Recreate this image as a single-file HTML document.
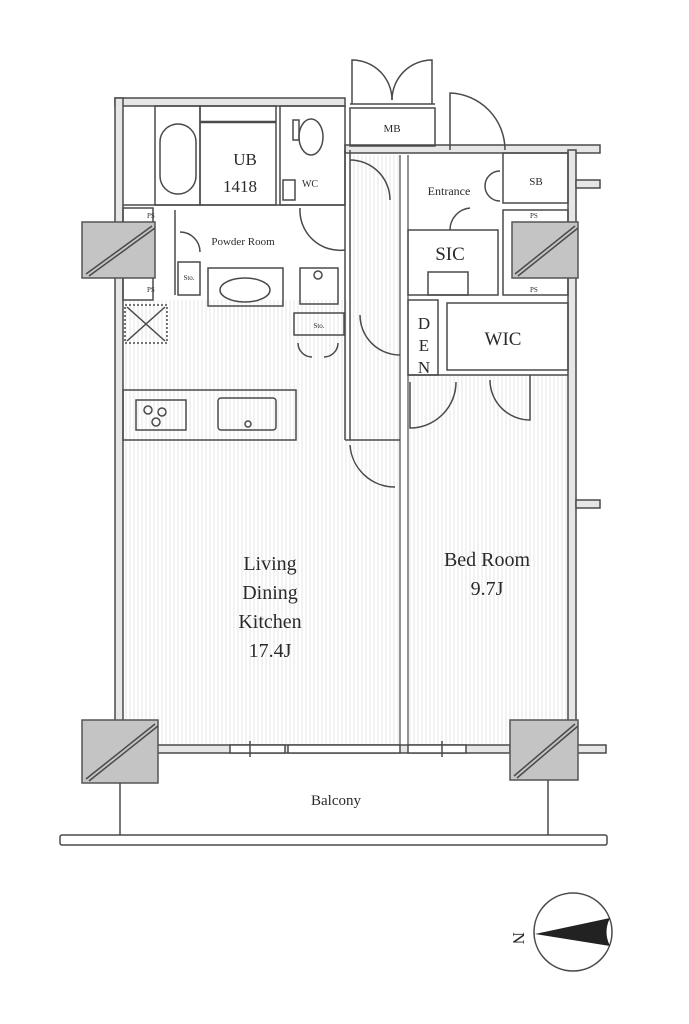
<!DOCTYPE html>
<html><head><meta charset="utf-8"><style>
html,body{margin:0;padding:0;background:#fff;}
svg{display:block;}
text{font-family:"Liberation Serif",serif;fill:#2a2a2a;}
</style></head><body>
<svg width="689" height="1024" viewBox="0 0 689 1024" xmlns="http://www.w3.org/2000/svg">
<defs>
<pattern id="fl" width="4" height="10" patternUnits="userSpaceOnUse"><line x1="2" y1="0" x2="2" y2="10" stroke="#e4e4e4" stroke-width="1"/></pattern>
</defs>
<g fill="none" stroke="#4a4a4a" stroke-width="1.5">
<rect x="125" y="300" width="275" height="445" fill="url(#fl)" stroke="none"/>
<rect x="408" y="375" width="160" height="370" fill="url(#fl)" stroke="none"/>
<rect x="350" y="155" width="50" height="285" fill="url(#fl)" stroke="none"/>
<rect x="115" y="98" width="230" height="8" fill="#e6e6e6"/>
<rect x="115" y="98" width="8" height="647" fill="#e6e6e6"/>
<rect x="345" y="145" width="255" height="8" fill="#e6e6e6"/>
<rect x="568" y="150" width="8" height="600" fill="#e6e6e6"/>
<rect x="576" y="180" width="24" height="8" fill="#e6e6e6"/>
<rect x="576" y="500" width="24" height="8" fill="#e6e6e6"/>
<rect x="576" y="745" width="30" height="8" fill="#e6e6e6"/>
<rect x="155" y="745" width="355" height="8" fill="#e6e6e6"/>
<rect x="230" y="745" width="55" height="8" fill="#fff"/>
<rect x="288" y="745" width="112" height="8" fill="#fff"/>
<rect x="408" y="745" width="58" height="8" fill="#fff"/>
<line x1="250" y1="741" x2="250" y2="757"/><line x1="442" y1="741" x2="442" y2="757"/>
<rect x="350" y="108" width="85" height="38"/>
<line x1="350" y1="104" x2="435" y2="104"/>
<path d="M352 104 V60 A40 40 0 0 1 392 100"/>
<path d="M432 104 V60 A40 40 0 0 0 392 100"/>
<path d="M450 150 V93 A57 57 0 0 1 505 150"/>
<rect x="155" y="106" width="45" height="99"/>
<rect x="200" y="106" width="76" height="99"/>
<line x1="200" y1="122" x2="276" y2="122" stroke-width="2.5"/>
<rect x="160" y="124" width="36" height="70" rx="18"/>
<rect x="280" y="106" width="65" height="99"/>
<ellipse cx="311" cy="137" rx="12" ry="18"/>
<rect x="293" y="120" width="6" height="20"/>
<rect x="283" y="180" width="12" height="20"/>
<line x1="123" y1="205" x2="345" y2="205"/>
<rect x="123" y="208" width="30" height="92"/>
<line x1="175" y1="210" x2="175" y2="295"/>
<rect x="178" y="262" width="22" height="33"/>
<rect x="208" y="268" width="75" height="38"/>
<ellipse cx="245" cy="290" rx="25" ry="12"/>
<rect x="300" y="268" width="38" height="36"/>
<circle cx="318" cy="275" r="4"/>
<rect x="294" y="313" width="50" height="22"/>
<path d="M300 208 A40 40 0 0 0 345 250"/>
<path d="M180 232 A20 20 0 0 1 200 252"/>
<path d="M298 343 A14 14 0 0 0 312 357 M338 343 A14 14 0 0 1 324 357"/>
<line x1="345" y1="150" x2="345" y2="440"/>
<line x1="350" y1="150" x2="350" y2="440"/>
<line x1="345" y1="440" x2="400" y2="440"/>
<path d="M350 160 A40 40 0 0 1 390 200"/>
<path d="M350 445 A45 45 0 0 0 395 487"/>
<rect x="125" y="305" width="42" height="38" stroke-dasharray="2,2"/>
<line x1="127" y1="307" x2="165" y2="341"/><line x1="165" y1="307" x2="127" y2="341"/>
<rect x="123" y="390" width="173" height="50"/>
<rect x="136" y="400" width="50" height="30"/>
<circle cx="148" cy="410" r="4"/><circle cx="162" cy="412" r="4"/><circle cx="156" cy="422" r="4"/>
<rect x="218" y="398" width="58" height="32" rx="3"/>
<circle cx="248" cy="424" r="3"/>
<line x1="400" y1="155" x2="400" y2="745" stroke-width="1.2"/>
<line x1="408" y1="155" x2="408" y2="745" stroke-width="1.2"/>
<rect x="408" y="230" width="90" height="65"/>
<rect x="428" y="272" width="40" height="23"/>
<rect x="503" y="153" width="65" height="50"/>
<rect x="503" y="210" width="65" height="85"/>
<rect x="408" y="300" width="30" height="75"/>
<rect x="447" y="303" width="121" height="67"/>
<line x1="408" y1="375" x2="568" y2="375"/>
<path d="M360 315 A40 40 0 0 0 400 355"/>
<path d="M410 382 V428 A46 46 0 0 0 456 382"/>
<path d="M490 380 A40 40 0 0 0 530 420 V375"/>
<path d="M450 230 A22 22 0 0 1 470 208"/>
<path d="M485 186 A15 15 0 0 1 500 171 M485 186 A15 15 0 0 0 500 201"/>
<g fill="#c4c4c4" stroke="#555">
<rect x="82" y="222" width="73" height="56"/>
<rect x="512" y="222" width="66" height="56"/>
<rect x="82" y="720" width="76" height="63"/>
<rect x="510" y="720" width="68" height="60"/>
</g>
<path d="M86 274 L152 226 M89 276 L155 228"/>
<path d="M515 274 L575 226 M518 276 L578 228"/>
<path d="M86 779 L155 724 M89 781 L158 726"/>
<path d="M514 776 L575 724 M517 778 L578 726"/>
<line x1="120" y1="783" x2="120" y2="835"/>
<line x1="548" y1="780" x2="548" y2="835"/>
<rect x="60" y="835" width="547" height="10" rx="2"/>
<circle cx="573" cy="932" r="39"/>
</g>
<path d="M535 934 L610 918 Q603 932 610 946 Z" fill="#222"/>
<text x="515" y="944" font-size="17" transform="rotate(90 520 937)">N</text>

<text x="245" y="165" font-size="17" text-anchor="middle">UB</text>
<text x="240" y="192" font-size="17" text-anchor="middle">1418</text>
<text x="310" y="187" font-size="10" text-anchor="middle">WC</text>
<text x="392" y="132" font-size="11" text-anchor="middle">MB</text>
<text x="449" y="195" font-size="12" text-anchor="middle" fill="#5a3a2a">Entrance</text>
<text x="536" y="185" font-size="11" text-anchor="middle">SB</text>
<text x="243" y="245" font-size="11" text-anchor="middle">Powder Room</text>
<text x="450" y="260" font-size="19" text-anchor="middle">SIC</text>
<text x="503" y="345" font-size="19" text-anchor="middle">WIC</text>
<text x="424" y="329" font-size="17" text-anchor="middle">D</text>
<text x="424" y="351" font-size="17" text-anchor="middle">E</text>
<text x="424" y="373" font-size="17" text-anchor="middle">N</text>
<text x="147" y="218" font-size="7">PS</text>
<text x="147" y="292" font-size="7">PS</text>
<text x="530" y="218" font-size="7">PS</text>
<text x="530" y="292" font-size="7">PS</text>
<text x="189" y="280" font-size="7" text-anchor="middle">Sto.</text>
<text x="319" y="328" font-size="7" text-anchor="middle">Sto.</text>
<text x="270" y="570" font-size="20" text-anchor="middle">Living</text>
<text x="270" y="599" font-size="20" text-anchor="middle">Dining</text>
<text x="270" y="628" font-size="20" text-anchor="middle">Kitchen</text>
<text x="270" y="657" font-size="20" text-anchor="middle">17.4J</text>
<text x="487" y="566" font-size="20" text-anchor="middle">Bed Room</text>
<text x="487" y="595" font-size="20" text-anchor="middle">9.7J</text>
<text x="336" y="805" font-size="15" text-anchor="middle">Balcony</text>
</svg>
</body></html>
